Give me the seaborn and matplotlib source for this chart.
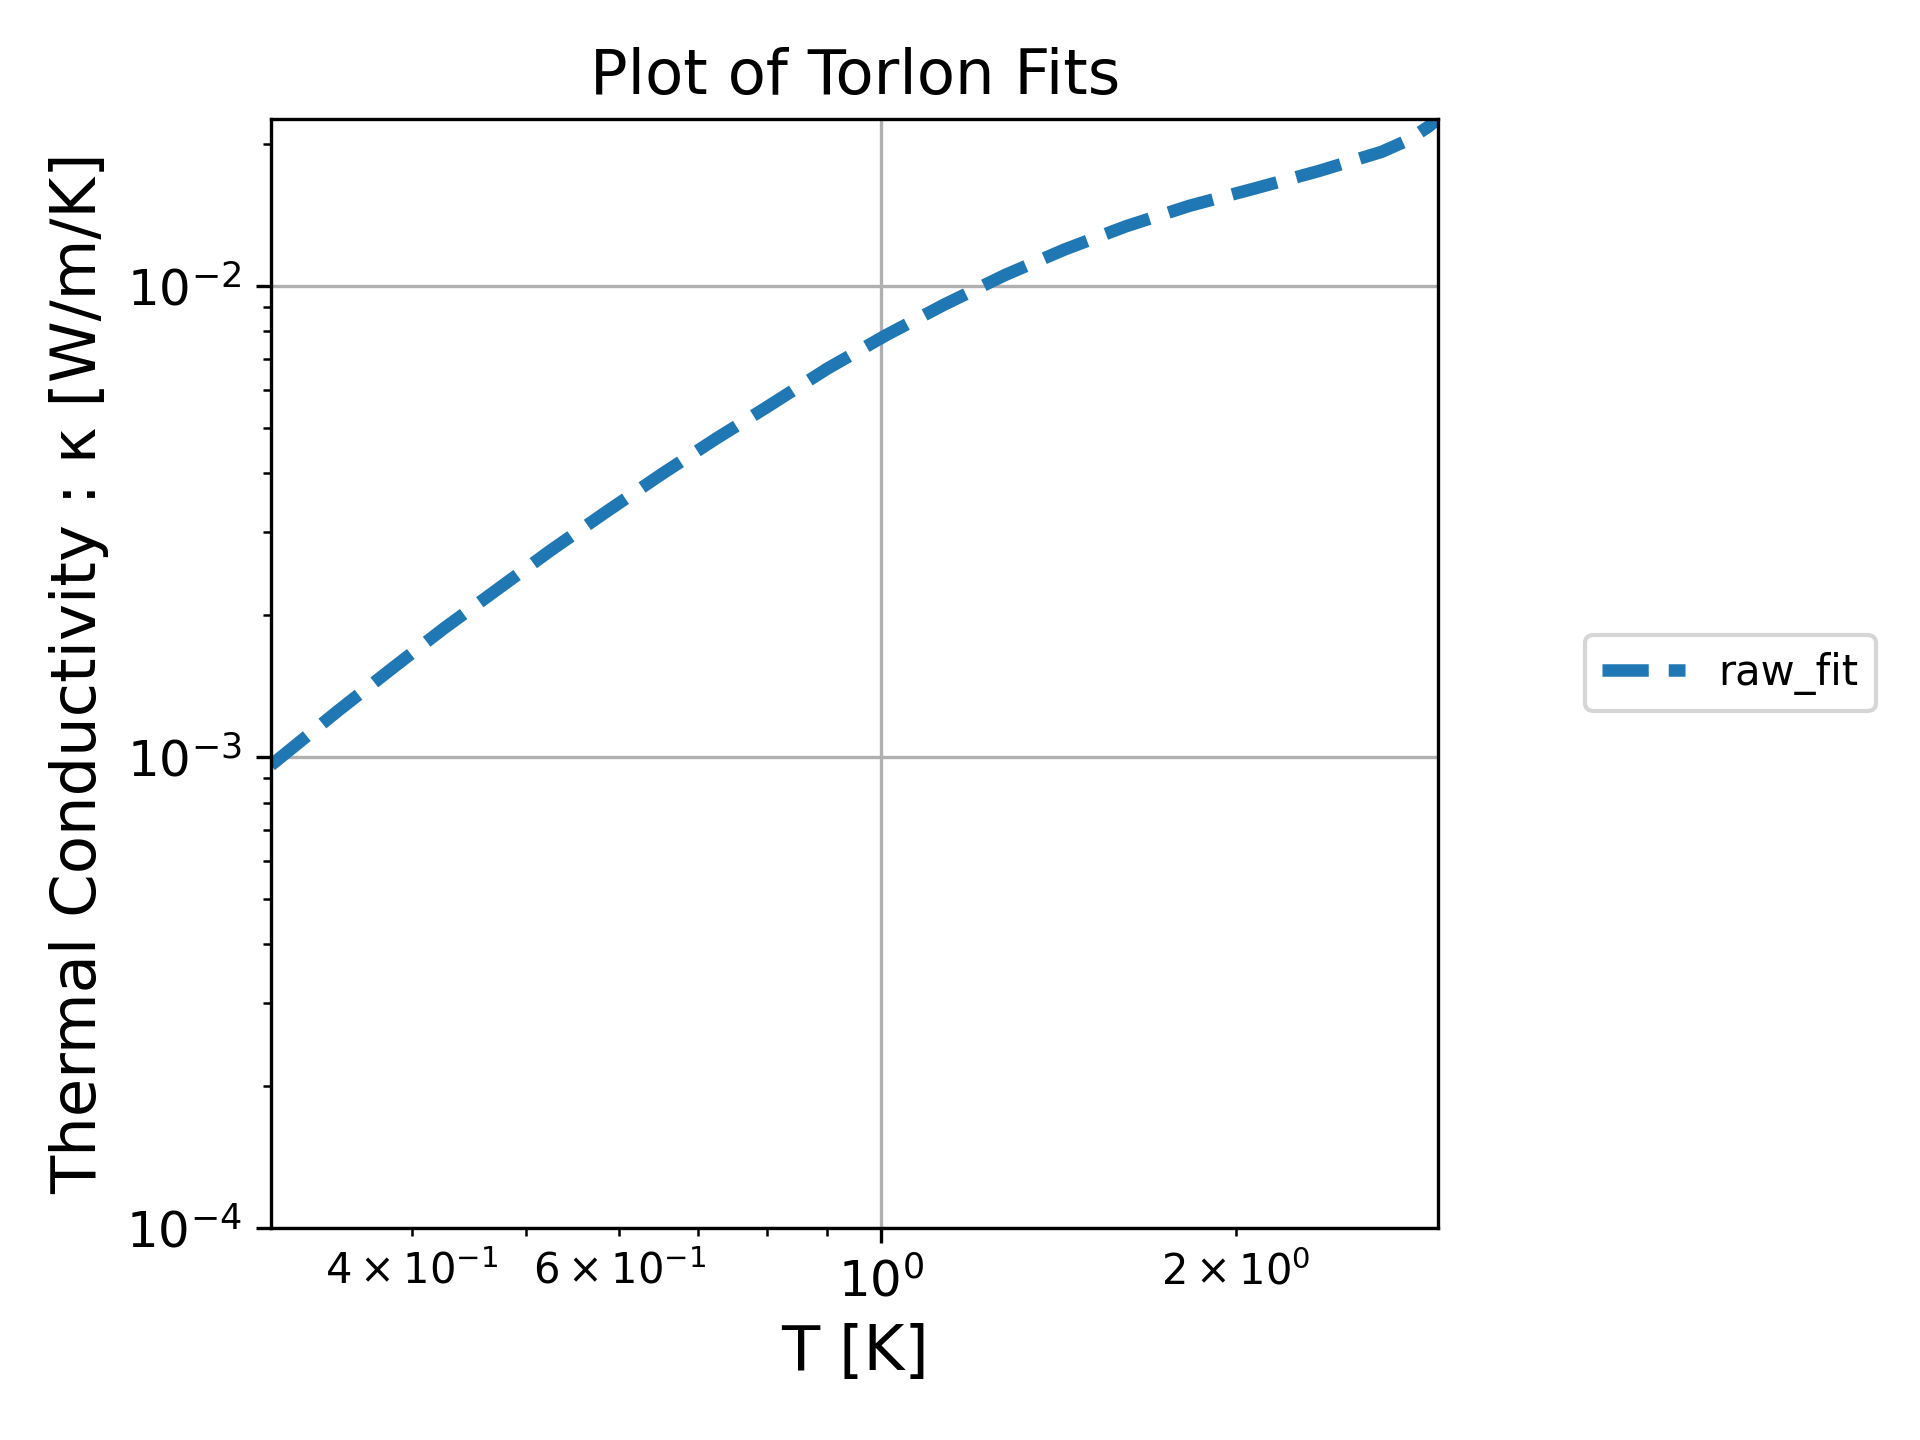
import matplotlib
matplotlib.use("Agg")
import matplotlib.pyplot as plt
import seaborn as sns

# temperature [K] and fitted thermal conductivity [W/m/K]
T_K = [0.304, 0.347, 0.385, 0.426, 0.473, 0.525, 0.585, 0.651, 0.725, 0.797,
       0.901, 1.010, 1.132, 1.273, 1.431, 1.614, 1.827, 2.074, 2.348, 2.658,
       2.800, 2.910, 2.969]
k_fit = [9.60e-4, 1.256e-3, 1.540e-3, 1.873e-3, 2.268e-3, 2.745e-3, 3.313e-3,
         3.975e-3, 4.739e-3, 5.49e-3, 6.675e-3, 7.855e-3, 9.126e-3, 1.053e-2,
         1.194e-2, 1.338e-2, 1.479e-2, 1.609e-2, 1.751e-2, 1.925e-2,
         2.04e-2, 2.175e-2, 2.265e-2]
fit_label = "raw_fit"

fig, ax = plt.subplots(figsize=(6.4, 4.8), dpi=300)
fig.subplots_adjust(left=0.1411, right=0.7492, top=0.9177, bottom=0.1472)

sns.lineplot(x=T_K, y=k_fit, ax=ax, label=fit_label, color="#1f77b4",
             linestyle="--", linewidth=3, sort=False)

ax.set_xscale("log")
ax.set_yscale("log")
ax.set_xlim(min(T_K), max(T_K))
ax.set_ylim(1e-4, max(k_fit))
ax.grid(True)

ax.set_title("Plot of Torlon Fits", fontsize=15)
ax.set_xlabel("T [K]", fontsize=15)
ax.set_ylabel("Thermal Conductivity : \u03ba [W/m/K]", fontsize=15)
# only the major labels are bigger, minor (4x10^-1 etc) stay default
ax.tick_params(axis="both", which="major", labelsize=12)

ax.legend(loc="center left", bbox_to_anchor=(1.108, 0.5), fontsize=10)

plt.savefig("out.png", dpi=300)
